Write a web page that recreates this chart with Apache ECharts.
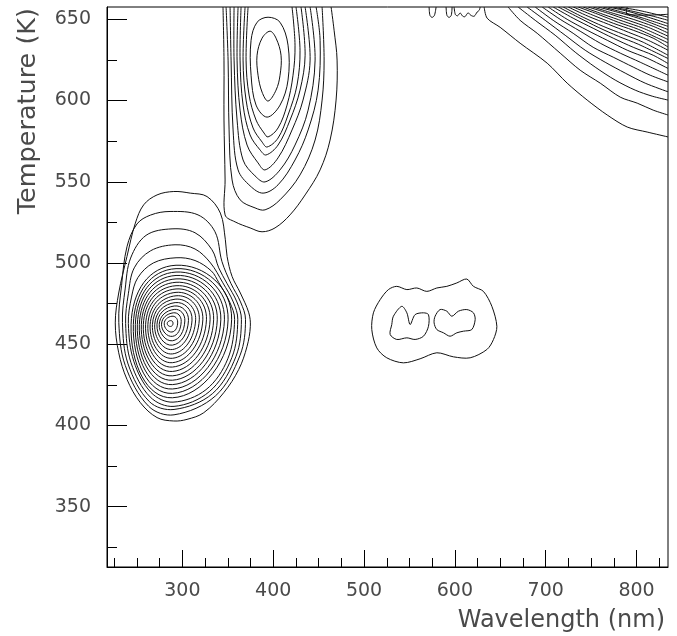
<!DOCTYPE html>
<html><head><meta charset="utf-8">
<script src="https://cdn.jsdelivr.net/npm/echarts@6/dist/echarts.min.js"></script>
<style>html,body{margin:0;padding:0;background:#fff}#c{width:677px;height:636px}</style>
</head><body><div id="c"></div>
<script>
// ---- axes ----
const xRange = [217, 834.6];
const yRange = [312.8, 657.6];
const xMajorTicks = [300, 400, 500, 600, 700, 800];
const xMinorTicks = [225, 250, 275, 325, 350, 375, 425, 450, 475, 525, 550, 575, 625, 650, 675, 725, 750, 775, 825];
const yMajorTicks = [350, 400, 450, 500, 550, 600, 650];
const yMinorTicks = [325, 375, 425, 475, 525, 575, 625];
const xTitle = 'Wavelength (nm)';
const yTitle = 'Temperature (K)';

// ---- peak near 290 nm / 462 K : inner rings (top, right, bottom, left) ----
const peak1Inner = [
  [[287,464.5],[289.7,462.9],[287,460.9],[283.3,462.7]],
  [[288.5,467.2],[294.8,463.6],[288.5,457.5],[280.0,462.5]],
  [[290,469.3],[298.7,464.0],[289,454.8],[277.0,462.3]],
  [[291,471.4],[302.7,464.3],[289,452.1],[274.5,462.2]],
  [[291,473.5],[306.7,464.6],[289,449.4],[272.0,462.0]],
  [[292,475.6],[310.6,464.8],[289,446.7],[269.5,462.0]],
  [[292,477.7],[314.6,465],[289,444.0],[267.0,462.0]],
  [[293,479.8],[318.6,465],[289,441.3],[264.5,462.0]],
  [[293,481.9],[322.5,465],[289,438.6],[262.0,462.0]],
  [[293,484.0],[326.5,465],[289,435.9],[259.5,462.0]],
  [[293,486.0],[330.5,465],[289,433.2],[257.0,462.0]],
  [[293,488.1],[334.4,465],[289,430.5],[254.8,462.0]],
  [[293,490.2],[338.4,465],[289,427.8],[252.6,462.0]],
  [[293,492.3],[342.3,465],[289,425.1],[250.4,462.0]],
  [[293,494.4],[346.3,465],[289,422.4],[248.2,462.0]],
  [[293,496.5],[350.3,465],[289,419.7],[246.0,462.0]],
  [[293,498.6],[354.2,465],[289,417.0],[243.5,462.0]]
];
// outer rings of the same peak
const peak1Outer = [
  [[293,503.2],[313.9,501.5],[332,495],[340,488],[352,476],[357.5,465.1],[350,441],[326,422],[289.7,414.3],[265.4,420.3],[246.5,439.5],[240.5,462.7],[244,479],[251,491],[268,500]],
  [[291.9,511.2],[313.9,508.6],[331,500],[344.5,487.8],[356,476],[361.0,465.1],[354.5,441.8],[329.5,420.7],[290.8,411.7],[264.5,417.5],[243.4,438.6],[237.5,462.7],[240.5,481],[247,497],[265,507.5]],
  [[288.6,521.0],[313.9,518.6],[332.6,508.1],[340,497],[349,487.5],[360,476],[365.0,465.1],[359,442.5],[333,419.5],[290.8,409.8],[263.7,414.6],[240.2,437.8],[234.0,463.3],[237,484],[243,503],[260,517]],
  [[286.4,531.7],[317.2,529.6],[335.9,519.2],[343.6,500.8],[353.5,487.3],[364,476],[369.5,465.1],[363.5,443.2],[336.5,418.2],[290.8,406.5],[262.8,411.8],[237.1,436.9],[230.0,463.3],[233,486],[239,510],[250,524],[265,529.5]],
  [[290.5,544.0],[308.7,543.0],[327.1,540.9],[341.8,530.7],[347.3,514.3],[349.2,504.0],[354.7,491.7],[363.8,481.5],[373.1,469.3],[374.8,461.0],[371.2,448.7],[362.0,434.4],[345.5,420.1],[323.5,407.8],[305.1,403.7],[290.5,402.7],[272.1,404.8],[253.7,414.0],[239.0,428.3],[229.9,444.7],[226.1,463.1],[229.9,481.5],[239.0,504.0],[248.2,524.5],[257.4,535.8],[272.1,541.9]]
];

// ---- peak near 395 nm / 630 K ----
const peak2Closed = [
  [[396.5,642.7],[403.1,638.4],[408.6,627.9],[407.5,615.6],[403.1,606.4],[394.3,599.7],[387.7,605.2],[383.3,615.6],[382.2,627.9],[387.7,638.4]],
  [[394.3,651.3],[407.5,648.2],[416.3,634.1],[416.3,612.6],[407.5,597.2],[393.2,589.8],[381.1,597.2],[375.6,615.6],[375.6,637.1],[382.2,648.2]]
];
const peak2Open = [
  [[372.3,657.6],[370.1,624.9],[373.4,603.4],[381.1,588.0],[389.9,580.0],[394.3,577.6],[405.3,583.1],[415.2,597.2],[421.8,615.6],[424.0,634.1],[420.7,657.6]],
  [[369.0,657.6],[366.8,624.9],[370.1,600.3],[377.8,583.1],[387.7,574.5],[393.2,571.4],[405.3,576.9],[416.3,591.1],[426.2,609.5],[429.5,631.0],[425.1,657.6]],
  [[364.6,657.6],[363.5,624.9],[366.8,597.2],[374.5,578.8],[385.5,569.6],[392.1,566.5],[405.3,572.6],[418.5,588.0],[429.5,606.4],[435.1,627.9],[430.6,657.6]],
  [[361.3,657.6],[360.2,624.9],[363.5,594.1],[371.2,572.6],[383.3,561.6],[391.0,557.3],[405.3,564.7],[420.7,581.9],[432.8,600.3],[440.6,624.9],[435.1,657.6]],
  [[356.9,657.6],[356.9,624.9],[360.2,588.0],[366.8,563.4],[380.0,553.6],[391.0,549.9],[407.5,557.3],[424.0,572.6],[438.4,594.1],[446.1,624.9],[440.6,657.6]],
  [[352.5,657.6],[353.6,624.9],[355.8,581.9],[361.3,557.3],[374.5,547.5],[388.8,543.0],[405.3,548.1],[424.0,563.4],[438.4,581.9],[449.4,606.4],[451.6,637.1],[447.2,657.6]],
  [[348.1,657.6],[350.3,624.9],[351.4,581.9],[354.7,551.1],[363.5,538.9],[380.0,533.9],[391.0,532.7],[407.5,538.9],[429.5,554.2],[446.1,575.7],[453.8,600.3],[456.0,624.9],[453.8,657.6]],
  [[344.7,657.6],[345.8,624.9],[345.8,588.0],[347.0,551.1],[347.0,529.6],[358.0,525.3],[374.5,521.6],[387.7,519.2],[402.0,521.6],[418.5,529.6],[435.1,541.9],[451.6,557.3],[462.6,575.7],[469.2,600.3],[470.3,624.9],[467.0,643.3],[463.7,657.6]]
];

// ---- peak near 580 nm / 465 K ----
const peak3Rings = [
  [[526.8,483.6],[536.0,485.6],[547.1,483.6],[558.1,484.6],[569.1,482.5],[580.1,484.6],[591.1,485.6],[602.1,487.7],[613.1,490.1],[620.4,485.6],[631.4,482.5],[640.7,473.3],[646.2,461.0],[642.4,452.8],[635.2,446.7],[616.8,441.6],[598.4,442.2],[580.1,444.7],[561.7,441.0],[543.3,438.5],[525.0,441.6],[514.0,447.7],[508.5,459.0],[510.3,469.3],[517.7,477.4]],
  [[530.5,462.1],[532.3,467.2],[541.5,473.3],[547.1,469.3],[550.7,462.1],[556.2,468.2],[565.4,469.3],[570.9,468.2],[570.9,461.0],[565.4,454.9],[556.2,452.9],[547.1,453.9],[536.0,452.9],[528.7,456.0]],
  [[578.2,467.2],[583.7,471.3],[591.1,470.3],[596.6,467.2],[603.9,470.3],[613.1,471.3],[620.4,469.3],[622.3,465.1],[618.6,459.0],[609.4,458.0],[602.1,457.0],[594.7,454.9],[587.4,457.0],[580.1,459.0],[577.1,463.1]]
];

// ---- high wavelength / high temperature corner ----
const cornerLines = [
  [[632.2,657.6],[635.5,650.7],[649.8,645.1],[671.8,635.3],[701.6,623.0],[723.6,610.7],[745.6,600.3],[767.7,591.1],[789.7,583.7],[811.7,580.6],[834.6,577.6]],
  [[658.6,657.6],[671.8,649.4],[690.6,641.4],[715.9,629.2],[737.9,618.7],[760.0,610.7],[782.0,602.1],[800.7,598.4],[818.3,594.1],[834.6,591.1]],
  [[669.6,657.6],[688.4,649.4],[710.4,640.2],[732.4,629.8],[754.4,620.6],[776.5,612.6],[798.5,606.4],[817.2,602.7],[834.6,600.3]],
  [[679.5,657.6],[699.4,649.4],[721.4,640.2],[743.4,631.0],[765.4,623.6],[787.5,616.9],[809.5,610.7],[834.6,605.4]],
  [[688.4,657.6],[708.2,649.4],[730.2,641.4],[752.2,632.8],[774.3,626.7],[796.3,620.6],[815.0,615.6],[834.6,611.5]],
  [[696.1,657.6],[715.9,650.0],[737.9,642.7],[760.0,635.3],[782.0,629.2],[804.0,623.6],[834.6,615.6]],
  [[702.7,657.6],[723.6,650.0],[745.6,643.3],[767.7,637.1],[789.7,631.0],[811.7,626.1],[834.6,619.8]],
  [[708.2,657.6],[730.2,650.7],[752.2,644.5],[774.3,638.4],[796.3,632.8],[818.3,627.9],[834.6,622.8]],
  [[713.7,657.6],[735.7,651.3],[757.7,645.1],[779.8,639.6],[801.8,634.7],[834.6,625.9]],
  [[719.2,657.6],[741.2,651.3],[763.2,645.7],[785.3,640.8],[807.3,635.9],[834.6,627.9]],
  [[724.7,657.6],[746.7,651.9],[768.8,647.0],[790.8,642.1],[812.8,637.1],[834.6,631.0]],
  [[730.2,657.6],[752.2,652.5],[774.3,647.6],[796.3,643.3],[818.3,638.4],[834.6,633.0]],
  [[735.7,657.6],[757.7,653.1],[779.8,648.2],[801.8,643.9],[834.6,635.5]],
  [[741.2,657.6],[763.2,653.1],[785.3,648.8],[807.3,644.5],[834.6,637.6]],
  [[746.7,657.6],[768.8,653.7],[790.8,649.4],[812.8,645.1],[834.6,639.6]],
  [[752.2,657.6],[774.3,653.7],[796.3,650.0],[818.3,645.7],[834.6,641.6]],
  [[757.7,657.6],[779.8,654.3],[801.8,650.7],[834.6,643.7]],
  [[763.2,657.6],[785.3,654.3],[807.3,650.7],[834.6,645.7]],
  [[768.8,657.6],[790.8,654.9],[812.8,651.3],[834.6,647.4]],
  [[774.3,657.6],[796.3,654.9],[818.3,651.9],[834.6,649.4]],
  [[779.8,657.6],[801.8,655.6],[834.6,651.3]],
  [[789.7,657.6],[789.7,653.1],[834.6,653.1]]
];
// small wiggles at the top edge
const topEdgeLines = [
  [[571.6,657.6],[572.5,652.5],[574.9,651.2],[577.5,652.5],[579.3,657.6]],
  [[590.3,657.6],[591.2,652.5],[593.6,651.2],[596.0,652.5],[596.9,657.6]],
  [[599.1,657.6],[600.5,653.0],[603.0,652.2],[605.8,653.9],[608.5,652.0],[611.0,651.6],[614.5,654.0],[617.5,652.5],[621.2,651.9],[624.5,654.5],[626.8,655.6],[627.8,657.6]]
];

const LINE = '#111';
function contourSeries(lines, closed, smooth) {
  return {
    type: 'custom', coordinateSystem: 'cartesian2d', xAxisIndex: 0, yAxisIndex: 0,
    clip: true, silent: true, animation: false,
    data: lines.map(function (l) { return l[0]; }),
    renderItem: function (params, api) {
      var pts = lines[params.dataIndex].map(function (p) { return api.coord(p); });
      return {
        type: closed ? 'polygon' : 'polyline',
        shape: { points: pts, smooth: smooth },
        style: { fill: 'none', stroke: LINE, lineWidth: 1 }
      };
    }
  };
}

const FONT = '"DejaVu Sans"';
const TXT = '#4a4a4a';
const chart = echarts.init(document.getElementById('c'), null, { renderer: 'canvas' });
chart.setOption({
  backgroundColor: '#fff',
  animation: false,
  grid: { left: 107, right: 9, top: 7, bottom: 69, show: true, borderColor: '#000', borderWidth: 1, backgroundColor: 'transparent' },
  xAxis: [
    { type: 'value', min: xRange[0], max: xRange[1], position: 'bottom',
      axisLine: { show: true, onZero: false, lineStyle: { color: '#000', width: 1 } },
      splitLine: { show: false },
      axisTick: { show: true, inside: true, length: 17, customValues: xMajorTicks, lineStyle: { color: '#000' } },
      axisLabel: { show: true, customValues: xMajorTicks, margin: 15, fontSize: 19, fontFamily: FONT, color: TXT } },
    { type: 'value', min: xRange[0], max: xRange[1], position: 'bottom', gridIndex: 0,
      axisLine: { show: false }, splitLine: { show: false },
      axisTick: { show: true, inside: true, length: 9, customValues: xMinorTicks, lineStyle: { color: '#000' } },
      axisLabel: { show: false } }
  ],
  yAxis: [
    { type: 'value', min: yRange[0], max: yRange[1], position: 'left',
      axisLine: { show: true, onZero: false, lineStyle: { color: '#000', width: 1 } },
      splitLine: { show: false },
      axisTick: { show: true, inside: true, length: 20, customValues: yMajorTicks, lineStyle: { color: '#000' } },
      axisLabel: { show: true, customValues: yMajorTicks, margin: 16, fontSize: 19, fontFamily: FONT, color: TXT } },
    { type: 'value', min: yRange[0], max: yRange[1], position: 'left', gridIndex: 0,
      axisLine: { show: false }, splitLine: { show: false },
      axisTick: { show: true, inside: true, length: 10, customValues: yMinorTicks, lineStyle: { color: '#000' } },
      axisLabel: { show: false } }
  ],
  graphic: [
    { type: 'text', right: 12, top: 609, style: { text: xTitle, font: '24px ' + FONT, fill: TXT } },
    { type: 'text', x: 15, y: 8, rotation: Math.PI / 2,
      style: { text: yTitle, font: '25.5px ' + FONT, fill: TXT, align: 'right', verticalAlign: 'top' } }
  ],
  series: [
    contourSeries(peak1Inner, true, 0.55),
    contourSeries(peak1Outer, true, 0.35),
    contourSeries(peak2Closed, true, 0.35),
    contourSeries(peak2Open, false, 0.35),
    contourSeries(peak3Rings, true, 0.3),
    contourSeries(cornerLines, false, 0.3),
    contourSeries(topEdgeLines, false, 0.3)
  ]
});
</script>
</body></html>
